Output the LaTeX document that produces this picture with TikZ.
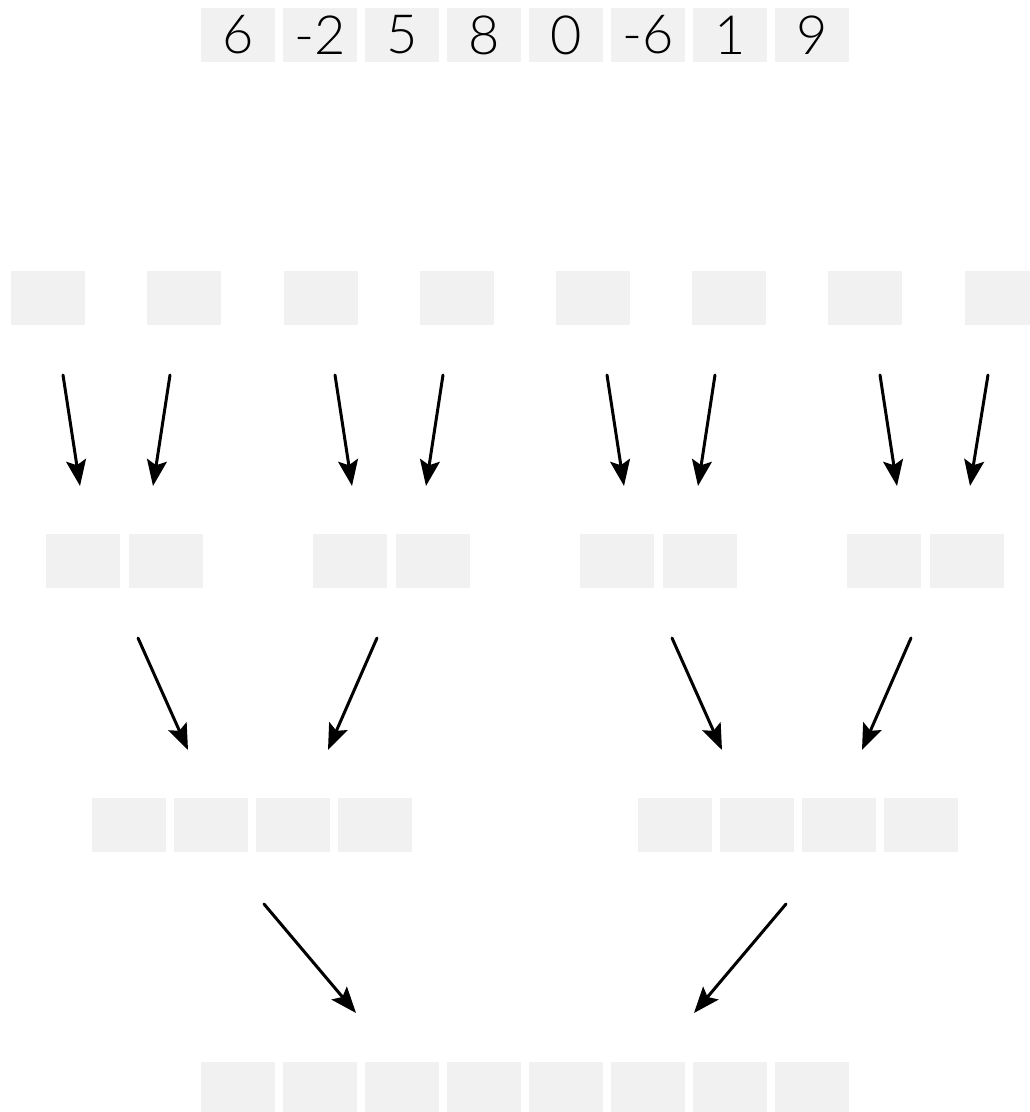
\documentclass[tikz,border=0pt]{standalone}
\usepackage{fontspec}
\setmainfont{Lato}[UprightFont=* Light]
\usetikzlibrary{arrows.meta}
\definecolor{boxgray}{HTML}{F1F1F1}
\begin{document}
\begin{tikzpicture}[x=1pt,y=-1pt,
  cell/.style={rectangle,fill=boxgray,minimum width=74pt,minimum height=54pt,inner sep=0pt,
    font=\fontsize{54}{60}\selectfont},
  arr/.style={line width=3pt,line cap=round,-{Stealth[length=26pt,width=20pt,inset=5pt]}}]
\useasboundingbox (0,0) rectangle (1030,1112);
% top row
\foreach \v [count=\i] in {6,-2,5,8,0,-6,1,9}
  \node[cell] (t\i) at ({238+82*(\i-1)},35) {\v};
% row 2
\foreach \x [count=\i] in {48,184,321,457,593,729,865,1002}
  \node[cell] (a\i) at (\x,298) {};
% row 3
\foreach \x [count=\i] in {83,166,350,433,617,700,884,967}
  \node[cell] (b\i) at (\x,561) {};
% row 4
\foreach \x [count=\i] in {129,211,293,375,675,757,839,921}
  \node[cell] (c\i) at (\x,825) {};
% bottom row
\foreach \i in {1,...,8}
  \node[cell] (d\i) at ({238+82*(\i-1)},1089) {};
% arrows row2 -> row3
\foreach \sx/\ex [count=\i] in {63/80,170/153,335/352,443/426,607/624,715/698,880/897,988/970}{
  \coordinate (p\i s) at (\sx,375);
  \coordinate (p\i e) at (\ex,486);
  \draw[arr] (p\i s) -- (p\i e);
}
% arrows row3 -> row4
\foreach \sx/\ex [count=\i] in {138/188,377/328,672/722,911/862}{
  \coordinate (q\i s) at (\sx,638);
  \coordinate (q\i e) at (\ex,750);
  \draw[arr] (q\i s) -- (q\i e);
}
% arrows row4 -> row5
\foreach \sx/\ex [count=\i] in {264/356,786/694}{
  \coordinate (r\i s) at (\sx,904);
  \coordinate (r\i e) at (\ex,1013);
  \draw[arr] (r\i s) -- (r\i e);
}
\end{tikzpicture}
\end{document}
